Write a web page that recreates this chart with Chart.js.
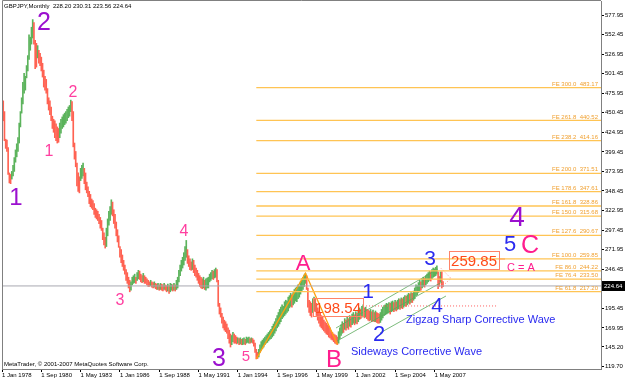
<!DOCTYPE html>
<html>
<head>
<meta charset="utf-8">
<title>GBPJPY Monthly</title>
<script src="https://cdn.jsdelivr.net/npm/chart.js@4.4.1/dist/chart.umd.min.js"></script>
<style>
  html, body { margin: 0; padding: 0; background: #fff; }
  canvas { display: block; }
</style>
</head>
<body>
<canvas id="gbpjpyChart" width="625" height="380"></canvas>
<script>
// monthly bars, Jan 1978 .. Dec 2007
const highs = [
  472,466,452,416,415,405,372,370,374,382,
  392,402,410,418,437,452,470,490,502,498,
  512,525,552,549,562,572,568,545,541,538,
  532,528,523,515,506,498,494,482,470,466,
  458,446,442,440,436,432,430,437,442,445,
  448,450,452,455,458,460,467,465,452,411,
  400,385,372,367,378,382,385,378,372,360,
  354,348,344,338,336,332,326,324,322,318,
  314,310,300,294,288,300,312,322,328,337,
  334,324,318,308,298,290,276,272,265,258,
  252,246,242,236,232,230,236,238,240,236,
  242,245,244,240,238,241,238,236,234,232,
  230,232,230,229,230,228,227,228,226,228,
  227,226,228,226,225,227,225,228,227,226,
  228,226,232,236,245,252,258,262,268,276,
  284,272,264,260,256,260,258,252,248,245,
  241,238,236,234,236,232,234,235,236,240,
  242,245,244,246,248,246,232,202,196,189,
  184,180,178,175,170,167,162,160,164,162,
  160,158,157,156,157,155,156,157,155,158,
  157,158,156,157,156,154,150,142,138,142,
  148,152,154,156,158,160,162,164,166,168,
  172,175,178,182,186,190,194,197,200,198,
  204,206,205,210,212,215,213,216,220,222,
  223,226,224,230,234,236,239,241.2,238,222,
  206,204,202,208,210,208,202,196,192,190,
  186,184,180,178,176,174,172,170,166,164,
  162,161,160,158,165,170,174,178,176,182,
  180,184,182,186,184,188,190,187,191,189,
  193,196,194,198,200,196,197,194,193,192,
  194,191,193,190,192,190,189,188,190,194,
  197,199,200,202,201,203,202,204,205,203,
  206,204,206,208,207,209,208,210,212,211,
  213,215,214,216,215,218,222,226,225,229,
  232,230,234,236,235,238,240,242,244,243,
  246,248,247,249,251,243,237,243,243,230.31
];
const lows = [
  455,440,414,404,400,370,359,358,364,368,
  374,386,393,400,411,432,450,462,476,480,
  496,505,520,532,540,548,540,508,510,522,
  515,512,505,497,484,480,476,462,454,448,
  440,430,425,418,414,411,412,418,424,430,
  432,435,437,440,444,446,452,440,406,390,
  380,355,348,346,362,365,368,358,350,346,
  341,332,328,326,324,318,314,312,310,306,
  300,297,285,278,274,276,290,304,310,318,
  316,306,300,290,282,275,262,255,250,245,
  240,232,228,222,217,219,226,228,229,228,
  232,234,233,230,229,230,228,228,226,224,
  224,225,223,222,223,221,220,220,219,220,
  219,218,220,219,217,218,215,217,219,218,
  219,218,220,222,230,238,244,248,252,258,
  262,254,250,246,245,246,242,238,236,232,
  228,224,222,221,222,220,219,222,222,230,
  232,234,233,235,236,230,198,188,184,176,
  170,167,165,163,156,150,145,148,152,150,
  150,149,150,148,149,148,148,149,148,150,
  151,150,150,151,150,146,138,129.5,130,132,
  138,141,143,145,148,150,151,153,155,156,
  158,160,163,166,170,172,175,178,182,184,
  186,188,190,192,196,198,197,200,202,205,
  204,208,210,214,218,220,224,228,220,197,
  190,186,184,190,192,191,186,180,176,172,
  170,168,166,164,162,161,158,157,155,154,
  152,150,149,148.2,150,156,160,163,164,168,
  167,170,168,172,171,174,176,174,176,175,
  178,181,182,184,186,183,184,182,180,179,
  180,178,179,178,178,177,176,176,177,180,
  183,186,187,188,189,190,188,191,192,191,
  193,192,194,195,194,196,195,197,199,198,
  200,202,201,203,203,206,208,212,213,216,
  218,219,222,224,223,226,228,230,232,231,
  234,236,237,238,240,221,224,230,222,223.56
];
const lastBar = { open: 228.20, high: 230.31, low: 223.56, close: 224.64 };

const xTickLabels = ['1 Jan 1978','1 Sep 1980','1 May 1983','1 Jan 1986','1 Sep 1988','1 May 1991',
  '1 Jan 1994','1 Sep 1996','1 May 1999','1 Jan 2002','1 Sep 2004','1 May 2007'];
const monthsPerTick = 32;
const yTickValues = [577.95,552.45,526.95,501.45,475.95,450.45,424.95,399.45,373.95,348.45,
  322.95,297.45,271.95,246.45,220.95,195.45,169.95,145.20,119.70];

// fibo expansion levels
const feRatios = [300.0,261.8,238.2,200.0,178.6,161.8,150.0,127.6,100.0,86.0,76.4,61.8];
const fePrices = [483.17,440.52,414.16,371.51,347.61,328.86,315.68,290.67,259.85,244.22,233.50,217.20];

// drawn objects (month index, price)
const zigzag = [{x:207,y:129.5},{x:247,y:241.2},{x:273,y:148.2}];
const channelUpper = [{x:271.9,y:169.8},{x:354.9,y:246.8}];
const channelMid = [{x:272.7,y:152.8},{x:358.2,y:229.8}];
const channelLow = [{x:307.7,y:163.3},{x:361.4,y:211.5}];
const triangle = [{x:357.4,y:247.5},{x:365.5,y:234.5},{x:357.4,y:222.7}];
const targetLine = [{x:293.9,y:198.54},{x:403,y:198.54}];
const targetTick = [{x:404.6,y:259.85},{x:409.5,y:259.85}];
const priceBoxes = [{v:259.85,from:363.9,to:404.6},{v:198.54,from:253.2,to:293.9}];

const PURPLE = '#9b10cf', PINK = '#ff3fa0', MAG = '#ff1d8e', BLUE = '#2a2af0';
const waveNotes = [
  {t:'1', i:11.4, p:339, c:PURPLE, s:24},
  {t:'2', i:34.2, p:567, c:PURPLE, s:25},
  {t:'1', i:38.3, p:400, c:PINK, s:16},
  {t:'2', i:57.8, p:477, c:PINK, s:16},
  {t:'3', i:96.1, p:205, c:PINK, s:16},
  {t:'4', i:148.2, p:296, c:PINK, s:16},
  {t:'5', i:198.6, p:132, c:PINK, s:15},
  {t:'3', i:176.7, p:129, c:PURPLE, s:25},
  {t:'A', i:245, p:253, c:MAG, s:22},
  {t:'B', i:270.3, p:128, c:MAG, s:24},
  {t:'1', i:298, p:217, c:BLUE, s:21},
  {t:'2', i:306.9, p:161, c:BLUE, s:22},
  {t:'3', i:348.4, p:260, c:BLUE, s:21},
  {t:'4', i:354.1, p:198.5, c:BLUE, s:21},
  {t:'4', i:419.2, p:313, c:PURPLE, s:28},
  {t:'5', i:413.6, p:278, c:BLUE, s:22},
  {t:'C', i:429.8, p:277, c:MAG, s:25},
  {t:'C = A', i:422.5, p:248, c:MAG, s:11}
];
const waveTexts = [
  {t:'Zigzag Sharp Corrective Wave', i:328.9, p:180.2},
  {t:'Sideways Corrective Wave', i:284.1, p:138.5}
];

const FONT = '"Liberation Sans", Arial, sans-serif';
Chart.defaults.font.family = FONT;

const barColors = highs.map((h, i) => {
  const mid = (h + lows[i]) / 2;
  const prev = i ? (highs[i - 1] + lows[i - 1]) / 2 : mid;
  return mid >= prev ? '#5cb35c' : '#ff6252';
});

const xMax = 487.6;
const lineSet = (data, color, width, dash) => ({
  type: 'line', data, borderColor: color, borderWidth: width, borderDash: dash || [],
  pointRadius: 0, fill: false, tension: 0, order: 1
});

const datasets = [
  {
    type: 'bar',
    data: highs.map((h, i) => ({ x: i, y: [lows[i], h] })),
    backgroundColor: barColors,
    barThickness: 1,
    order: 3
  },
  lineSet([{x:0,y:lastBar.close},{x:xMax,y:lastBar.close}], '#a8a8b0', 1),
  ...fePrices.map(p => lineSet([{x:207,y:p},{x:xMax,y:p}], '#ffc454', 1.3)),
  lineSet(zigzag, '#ffa010', 1.3),
  lineSet(channelUpper, '#5aaa5a', 0.8),
  lineSet(channelMid, '#5aaa5a', 0.8),
  lineSet(channelLow, '#5aaa5a', 0.8),
  lineSet(triangle, '#ff8080', 1, [1, 2]),
  lineSet(targetLine, '#ff6060', 1, [1, 2]),
  lineSet(targetTick, '#ff6040', 1)
];

const overlay = {
  id: 'overlay',
  afterDraw(chart) {
    const { ctx, chartArea: a, scales: { x, y } } = chart;
    ctx.save();

    // chart frame (left/top)
    ctx.strokeStyle = '#808080';
    ctx.lineWidth = 1;
    ctx.beginPath();
    ctx.moveTo(a.left + 0.5, a.bottom);
    ctx.lineTo(a.left + 0.5, 0.5);
    ctx.lineTo(a.right, 0.5);
    ctx.stroke();

    // FE level captions
    ctx.font = '6px ' + FONT;
    ctx.fillStyle = '#f0a030';
    ctx.textAlign = 'right';
    ctx.textBaseline = 'bottom';
    feRatios.forEach((r, k) => {
      ctx.fillText('FE ' + r.toFixed(1) + '  ' + fePrices[k].toFixed(2), a.right - 3, y.getPixelForValue(fePrices[k]) - 0.5);
    });

    // price target boxes
    ctx.font = '15px ' + FONT;
    ctx.textAlign = 'center';
    ctx.textBaseline = 'middle';
    priceBoxes.forEach(b => {
      const x1 = x.getPixelForValue(b.from), x2 = x.getPixelForValue(b.to);
      const py = y.getPixelForValue(b.v) + 1.5;
      ctx.strokeStyle = '#ff8468';
      ctx.strokeRect(Math.round(x1) + 0.5, Math.round(py - 9) + 0.5, Math.round(x2 - x1), 18);
      ctx.fillStyle = '#ff4a1a';
      ctx.fillText(b.v.toFixed(2), (x1 + x2) / 2, py + 1);
    });

    // wave counts
    waveNotes.forEach(n => {
      ctx.font = n.s + 'px ' + FONT;
      ctx.fillStyle = n.c;
      ctx.fillText(n.t, x.getPixelForValue(n.i), y.getPixelForValue(n.p));
    });
    ctx.font = '11px ' + FONT;
    ctx.fillStyle = BLUE;
    ctx.textAlign = 'left';
    waveTexts.forEach(n => ctx.fillText(n.t, x.getPixelForValue(n.i), y.getPixelForValue(n.p)));

    // header and copyright
    ctx.font = '6px ' + FONT;
    ctx.fillStyle = '#000';
    ctx.fillText('GBPJPY,Monthly  ' + [lastBar.open, lastBar.high, lastBar.low, lastBar.close].map(v => v.toFixed(2)).join(' '), a.left + 2, 6);
    ctx.fillText('MetaTrader, \u00a9 2001-2007 MetaQuotes Software Corp.', a.left + 2, a.bottom - 5);

    // current price marker on the axis
    const cy = Math.round(y.getPixelForValue(lastBar.close));
    ctx.fillStyle = '#000';
    ctx.fillRect(a.right + 1, cy - 5, 24, 10);
    ctx.fillStyle = '#fff';
    ctx.fillText(lastBar.close.toFixed(2), a.right + 3, cy);

    ctx.restore();
  }
};

const zeroPad = s => { s.paddingLeft = 0; s.paddingRight = 0; s.paddingTop = 0; s.paddingBottom = 0; };

new Chart(document.getElementById('gbpjpyChart'), {
  type: 'bar',
  data: { datasets },
  options: {
    responsive: false,
    animation: false,
    devicePixelRatio: 1,
    layout: { padding: { left: 2, top: 1, right: 0, bottom: 0 } },
    plugins: { legend: { display: false }, tooltip: { enabled: false } },
    scales: {
      x: {
        type: 'linear',
        offset: false,
        min: 0,
        max: xMax,
        afterBuildTicks: s => { s.ticks = xTickLabels.map((_, k) => ({ value: k * monthsPerTick })); },
        afterFit: s => { s.height = 11; zeroPad(s); },
        grid: { offset: false, drawOnChartArea: false, tickLength: 3, color: '#000' },
        border: { color: '#808080' },
        ticks: {
          callback: (v, k) => xTickLabels[k],
          align: 'start', autoSkip: false, maxRotation: 0, minRotation: 0,
          padding: 0, color: '#000', font: { size: 6 }
        }
      },
      y: {
        type: 'linear',
        position: 'right',
        min: 116.33,
        max: 596.21,
        afterBuildTicks: s => { s.ticks = yTickValues.map(v => ({ value: v })); },
        afterFit: s => { s.width = 24; zeroPad(s); },
        grid: { drawOnChartArea: false, tickLength: 3, color: '#000' },
        border: { color: '#808080' },
        ticks: { callback: v => v.toFixed(2), padding: 1, color: '#000', font: { size: 6 } }
      }
    }
  },
  plugins: [overlay]
});
</script>
</body>
</html>
